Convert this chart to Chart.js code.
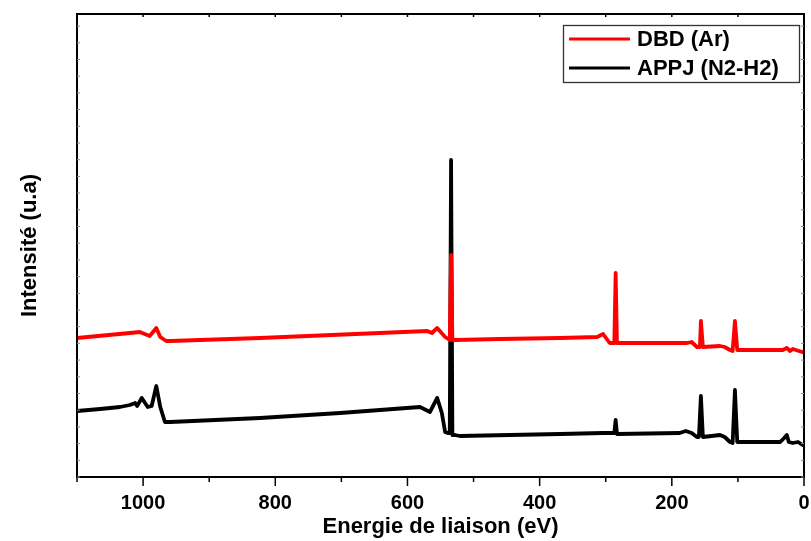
<!DOCTYPE html>
<html>
<head>
<meta charset="utf-8">
<script src="https://cdn.jsdelivr.net/npm/chart.js@4.4.0/dist/chart.umd.min.js"></script>
<style>
  html, body { margin: 0; padding: 0; background: #fff; }
  #wrap { width: 811px; height: 541px; }
</style>
</head>
<body>
<div id="wrap"><canvas id="xps"></canvas></div>
<script>
// binding energy (eV) and intensity (a.u.)
const energyAPPJ = [1100, 1065, 1035, 1020, 1012, 1009, 1002, 993, 987, 980, 974, 967, 959, 823, 702, 581, 566, 555, 548, 543, 539, 536, 534, 532, 528, 521, 369, 304, 289, 287, 285, 283, 188, 179, 170, 162, 159, 156, 153, 127, 120, 112, 108, 104.5, 101, 36, 30, 26, 23, 17, 9, 2, 0];
const intensAPPJ = [66, 68, 70, 72, 74, 71, 79, 70, 71, 91, 70, 55, 55, 59, 64, 70, 65, 79, 64, 45, 44, 44, 317, 42, 42, 41, 43, 44, 44, 44, 57, 43, 44, 46, 44, 40, 40, 81, 40, 42, 40, 35, 34, 87, 35, 35, 39, 42, 35, 34, 35, 32, 32];

const energyDBD = [1100, 1020, 1005, 990, 980, 974, 965, 959, 823, 570, 563, 555, 543, 536, 534, 532, 528, 460, 369, 313, 304, 294, 289, 287, 285, 283, 177, 170, 162, 157.5, 156, 153, 127, 120, 112, 108, 104.5, 101, 32, 26, 21, 17, 3, 0];
const intensDBD = [139, 144, 145, 141, 149, 140, 136, 136, 139, 146, 144, 149, 140, 137, 222, 137, 137, 138, 139, 140, 143, 134, 134, 134, 204, 134, 134, 135, 130, 130, 156, 130, 131, 130, 127, 126, 156, 127, 127, 129, 126, 128, 125, 125];

const xTicks = [1000, 800, 600, 400, 200, 0];
const seriesNames = ['DBD (Ar)', 'APPJ (N2-H2)'];

function pts(xs, ys) { return xs.map((v, i) => ({ x: v, y: ys[i] })); }

// frame, minor ticks and the boxed legend
const framePlugin = {
  id: 'frame',
  afterDraw(chart) {
    const { ctx, chartArea: a, scales } = chart;
    const x = scales.x, y = scales.y;
    ctx.save();
    ctx.strokeStyle = '#000';
    ctx.lineWidth = 2;
    ctx.strokeRect(a.left, a.top, a.right - a.left, a.bottom - a.top);

    ctx.lineWidth = 1.5;
    for (let v = 0; v <= 1100; v += 100) {
      const px = x.getPixelForValue(v);
      const major = v % 200 === 0;
      ctx.beginPath();
      ctx.moveTo(px, a.bottom);
      ctx.lineTo(px, a.bottom + (major ? 9 : 5));
      ctx.stroke();
      ctx.beginPath();
      ctx.moveTo(px, a.top);
      ctx.lineTo(px, a.top + 3);
      ctx.stroke();
    }
    ctx.lineWidth = 1;
    ctx.strokeStyle = '#888';
    for (let v = 0; v <= 463; v += 16.7) {
      const py = y.getPixelForValue(v);
      ctx.beginPath();
      ctx.moveTo(a.left, py); ctx.lineTo(a.left + 3, py);
      ctx.moveTo(a.right, py); ctx.lineTo(a.right - 3, py);
      ctx.stroke();
    }

    // legend
    ctx.strokeStyle = '#333';
    ctx.lineWidth = 1.3;
    ctx.strokeRect(563.5, 25.5, 236, 57);
    ctx.font = 'bold 22px "Liberation Sans", Arial, sans-serif';
    ctx.textBaseline = 'middle';
    chart.data.datasets.forEach((ds, i) => {
      const ly = 39 + i * 29;
      ctx.strokeStyle = ds.borderColor;
      ctx.lineWidth = 3;
      ctx.beginPath();
      ctx.moveTo(569, ly); ctx.lineTo(630, ly);
      ctx.stroke();
      ctx.fillStyle = '#000';
      ctx.fillText(ds.label, 637, ly + 1);
    });
    ctx.restore();
  }
};

new Chart(document.getElementById('xps'), {
  type: 'line',
  data: {
    datasets: [
      { label: seriesNames[0], data: pts(energyDBD, intensDBD), borderColor: '#ff0000', borderWidth: 3.8, pointRadius: 0, tension: 0, borderJoinStyle: 'round' },
      { label: seriesNames[1], data: pts(energyAPPJ, intensAPPJ), borderColor: '#000000', borderWidth: 3.8, pointRadius: 0, tension: 0, borderJoinStyle: 'round' }
    ]
  },
  options: {
    responsive: true,
    maintainAspectRatio: false,
    animation: false,
    layout: { padding: { top: 14, right: 7, left: 0, bottom: 0 } },
    plugins: { legend: { display: false }, tooltip: { enabled: false } },
    scales: {
      x: {
        type: 'linear',
        reverse: true,
        min: 0,
        max: 1100,
        afterFit(s) { s.height = 64; s.paddingLeft = 0; s.paddingRight = 0; },
        afterBuildTicks(s) { s.ticks = xTicks.map(v => ({ value: v })); },
        grid: { display: false },
        border: { display: false },
        ticks: {
          padding: 6,
          color: '#000',
          maxRotation: 0,
          callback: v => String(v),
          font: { family: '"Liberation Sans", Arial, sans-serif', size: 20, weight: 'bold' }
        },
        title: {
          display: true,
          text: 'Energie de liaison (eV)',
          color: '#000',
          padding: { top: 0, bottom: 1 },
          font: { family: '"Liberation Sans", Arial, sans-serif', size: 22, weight: 'bold' }
        }
      },
      y: {
        min: 0,
        max: 463,
        afterFit(s) { s.width = 77; s.paddingTop = 0; s.paddingBottom = 0; },
        grid: { display: false },
        border: { display: false },
        ticks: { display: false },
        title: {
          display: true,
          text: 'Intensité (u.a)',
          color: '#000',
          padding: { top: 17, bottom: 0 },
          font: { family: '"Liberation Sans", Arial, sans-serif', size: 22, weight: 'bold' }
        }
      }
    }
  },
  plugins: [framePlugin]
});
</script>
</body>
</html>
